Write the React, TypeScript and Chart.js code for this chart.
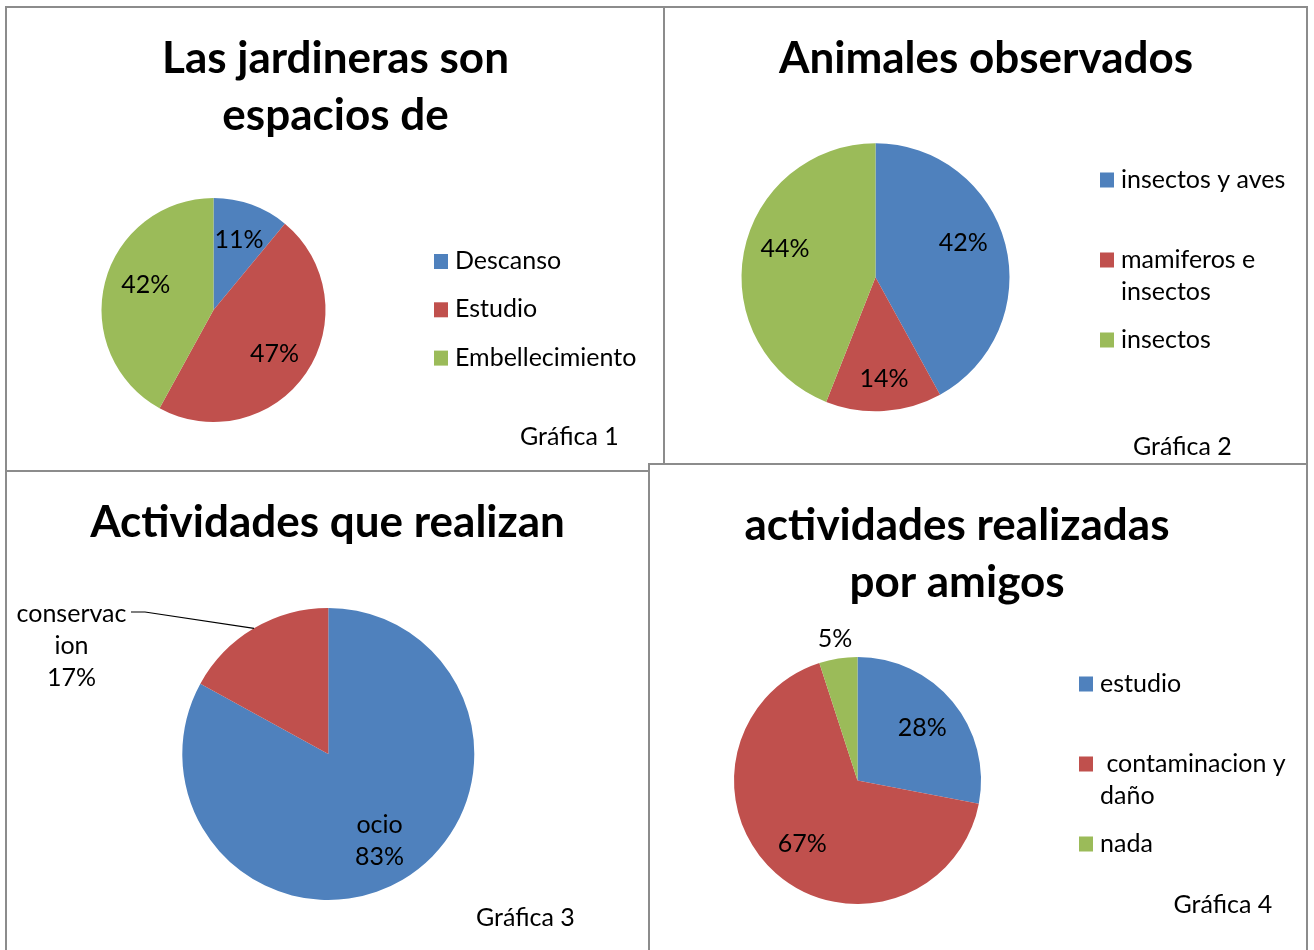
import { useEffect, useRef } from "react";
import { Chart, registerables } from "chart.js";

Chart.register(...registerables);

// ---------------- data ----------------
const sliceColors = ["#4F81BD", "#C0504D", "#9BBB59"];

const chart1Title = ["Las jardineras son", "espacios de"];
const chart1Labels = ["Descanso", "Estudio", "Embellecimiento"];
const chart1Values = [11, 47, 42];
const chart1Caption = "Gráfica 1";

const chart2Title = ["Animales observados"];
const chart2Labels = ["insectos y aves", "mamiferos e insectos", "insectos"];
const chart2Values = [42, 14, 44];
const chart2Caption = "Gráfica 2";

const chart3Title = ["Actividades que realizan"];
const chart3Labels = ["ocio", "conservacion"];
const chart3Values = [83, 17];
const chart3Caption = "Gráfica 3";

const chart4Title = ["actividades realizadas", "por amigos"];
const chart4Labels = ["estudio", " contaminacion y daño", "nada"];
const chart4Values = [28, 67, 5];
const chart4Caption = "Gráfica 4";

// ---------------- styling / layout ----------------
const FONT = "Lato, 'Noto Sans', sans-serif";
const TITLE_FONT = `bold 44px ${FONT}`;
const TEXT_FONT = `25px ${FONT}`;
const TEXT_CAP = 17.5;
const LINE_H = 32;

type LabelPos = { f: number; dx?: number; dy?: number; outside?: any };

type PanelCfg = {
  rect: [number, number, number, number];
  labels: string[];
  values: number[];
  center: [number, number];
  r: number;
  title: { lines: string[]; x: number; y: number[]; w: number[] };
  legend?: { x: number; top: number; step: number; wrap: number };
  labelPos: LabelPos[];
  showName?: boolean;
  caption: { text: string; x: number; y: number };
};

const panels: PanelCfg[] = [
  {
    rect: [7, 8, 656, 462],
    labels: chart1Labels,
    values: chart1Values,
    center: [213.5, 310],
    r: 112,
    title: { lines: chart1Title, x: 335.5, y: [73, 130], w: [352, 229] },
    legend: { x: 434, top: 254, step: 48.3, wrap: 400 },
    labelPos: [{ f: 0.67 }, { f: 0.67, dx: -1, dy: 1 }, { f: 0.67, dx: 5, dy: -7 }],
    caption: { text: chart1Caption, x: 520, y: 445 },
  },
  {
    rect: [665, 8, 641, 455],
    labels: chart2Labels,
    values: chart2Values,
    center: [875.5, 277.3],
    r: 134,
    title: { lines: chart2Title, x: 986, y: [73], w: [423] },
    legend: { x: 1100, top: 172.5, step: 80, wrap: 178 },
    labelPos: [{ f: 0.7, dx: -3, dy: -11.5 }, { f: 0.77, dx: 2, dy: -2 }, { f: 0.7, dx: 1.6, dy: -11.7 }],
    caption: { text: chart2Caption, x: 1133, y: 455 },
  },
  {
    rect: [7, 472, 641, 478],
    labels: chart3Labels,
    values: chart3Values,
    center: [328.3, 754],
    r: 146,
    title: { lines: chart3Title, x: 327.5, y: [537], w: [482] },
    labelPos: [
      { f: 0.69 },
      { f: 1, outside: { x: 71.5, y: 645, lineStart: [131, 612], elbow: [145, 612], chars: 9 } },
    ],
    showName: true,
    caption: { text: chart3Caption, x: 476, y: 926 },
  },
  {
    rect: [650, 465, 656, 485],
    labels: chart4Labels,
    values: chart4Values,
    center: [857.5, 780.5],
    r: 123.5,
    title: { lines: chart4Title, x: 957, y: [540, 597], w: [435, 220] },
    legend: { x: 1079, top: 676.5, step: 80, wrap: 200 },
    labelPos: [{ f: 0.68 }, { f: 0.7, dx: 2, dy: -2 }, { f: 1.17 }],
    caption: { text: chart4Caption, x: 1173.5, y: 913 },
  },
];

const borderLines: [number, number, number, number][] = [
  [5, 6, 1303, 2],
  [5, 6, 2, 944],
  [1306, 6, 2, 944],
  [663, 6, 2, 458],
  [648, 463, 660, 2],
  [5, 470, 645, 2],
  [648, 463, 2, 487],
];

function wrapWords(ctx: CanvasRenderingContext2D, text: string, maxW: number): string[] {
  const words = text.split(" ");
  const lines: string[] = [];
  let cur = "";
  for (let i = 0; i < words.length; i++) {
    const w = words[i];
    const test = cur === "" && i === 0 ? w : cur + " " + w;
    if (cur !== "" && ctx.measureText(test).width > maxW) {
      lines.push(cur);
      cur = w;
    } else {
      cur = test;
    }
  }
  lines.push(cur);
  return lines;
}

function makePlugin(cfg: PanelCfg) {
  return {
    id: "panelDecor",
    afterDraw(chart: any) {
      const ctx: CanvasRenderingContext2D = chart.ctx;
      const [ox, oy] = cfg.rect;
      ctx.save();
      ctx.translate(-ox, -oy);
      ctx.fillStyle = "#000";
      ctx.textBaseline = "alphabetic";

      // title
      ctx.font = TITLE_FONT;
      ctx.textAlign = "center";
      cfg.title.lines.forEach((t, i) => ctx.fillText(t, cfg.title.x, cfg.title.y[i], cfg.title.w[i]));

      // legend
      ctx.font = TEXT_FONT;
      if (cfg.legend) {
        const lg = cfg.legend;
        const colors = chart.data.datasets[0].backgroundColor as string[];
        (chart.data.labels as string[]).forEach((lab, i) => {
          const top = lg.top + i * lg.step;
          ctx.fillStyle = colors[i];
          ctx.fillRect(lg.x, top, 14, 15);
          ctx.fillStyle = "#000";
          ctx.textAlign = "left";
          const lines = wrapWords(ctx, lab, lg.wrap);
          lines.forEach((ln, j) => ctx.fillText(ln, lg.x + 21, top + 15 + j * LINE_H));
        });
      }

      // caption
      ctx.textAlign = "left";
      ctx.fillText(cfg.caption.text, cfg.caption.x, cfg.caption.y);
      ctx.restore();

      // data labels
      const meta = chart.getDatasetMeta(0);
      const data = chart.data.datasets[0].data as number[];
      const total = data.reduce((a, b) => a + b, 0);
      ctx.save();
      ctx.font = TEXT_FONT;
      ctx.fillStyle = "#000";
      ctx.textAlign = "center";
      meta.data.forEach((arc: any, i: number) => {
        const p = arc.getProps(["x", "y", "startAngle", "endAngle", "outerRadius"], true);
        const mid = (p.startAngle + p.endAngle) / 2;
        const pos = cfg.labelPos[i] || { f: 0.68 };
        const pct = Math.round((data[i] / total) * 100) + "%";
        const name = (chart.data.labels as string[])[i];
        if (pos.outside) {
          const o = pos.outside;
          const parts: string[] = [];
          for (let k = 0; k < name.length; k += o.chars) parts.push(name.slice(k, k + o.chars));
          const lines = [...parts, pct];
          const lx = o.x - ox;
          const ly = o.y - oy;
          lines.forEach((ln, j) => {
            ctx.fillText(ln, lx, ly + TEXT_CAP / 2 + (j - (lines.length - 1) / 2) * LINE_H);
          });
          const ex = p.x + Math.cos(mid) * p.outerRadius;
          const ey = p.y + Math.sin(mid) * p.outerRadius;
          ctx.strokeStyle = "#000";
          ctx.lineWidth = 1.2;
          ctx.beginPath();
          ctx.moveTo(o.lineStart[0] - ox, o.lineStart[1] - oy);
          ctx.lineTo(o.elbow[0] - ox, o.elbow[1] - oy);
          ctx.lineTo(ex, ey);
          ctx.stroke();
          return;
        }
        const cx = p.x + Math.cos(mid) * p.outerRadius * pos.f + (pos.dx || 0);
        const cy = p.y + Math.sin(mid) * p.outerRadius * pos.f + (pos.dy || 0);
        const lines = cfg.showName ? [name, pct] : [pct];
        lines.forEach((ln, j) => {
          ctx.fillText(ln, cx, cy + TEXT_CAP / 2 + (j - (lines.length - 1) / 2) * LINE_H);
        });
      });
      ctx.restore();
    },
  };
}

function PiePanel({ cfg }: { cfg: PanelCfg }) {
  const ref = useRef<HTMLCanvasElement | null>(null);
  useEffect(() => {
    if (!ref.current) return;
    const [ox, oy, w, h] = cfg.rect;
    const lx = cfg.center[0] - ox;
    const ly = cfg.center[1] - oy;
    const chart = new Chart(ref.current, {
      type: "pie",
      data: {
        labels: cfg.labels,
        datasets: [
          {
            data: cfg.values,
            backgroundColor: sliceColors.slice(0, cfg.values.length),
            borderWidth: 0,
            radius: cfg.r,
          } as any,
        ],
      },
      options: {
        responsive: false,
        animation: false,
        events: [],
        layout: {
          padding: {
            left: lx - cfg.r,
            right: w - lx - cfg.r,
            top: ly - cfg.r,
            bottom: h - ly - cfg.r,
          },
        },
        plugins: {
          legend: { display: false },
          tooltip: { enabled: false },
          title: { display: false },
        },
      },
      plugins: [makePlugin(cfg)],
    });
    return () => chart.destroy();
  }, [cfg]);
  const [x, y, w, h] = cfg.rect;
  return (
    <canvas
      ref={ref}
      width={w}
      height={h}
      style={{ position: "absolute", left: x, top: y, width: w, height: h }}
    />
  );
}

export default function App() {
  return (
    <div style={{ position: "absolute", left: 0, top: 0, width: 1314, height: 950, background: "#fff", overflow: "hidden" }}>
      {panels.map((p, i) => (
        <PiePanel key={i} cfg={p} />
      ))}
      {borderLines.map((b, i) => (
        <div
          key={"b" + i}
          style={{ position: "absolute", left: b[0], top: b[1], width: b[2], height: b[3], background: "#8c8c8c" }}
        />
      ))}
    </div>
  );
}
